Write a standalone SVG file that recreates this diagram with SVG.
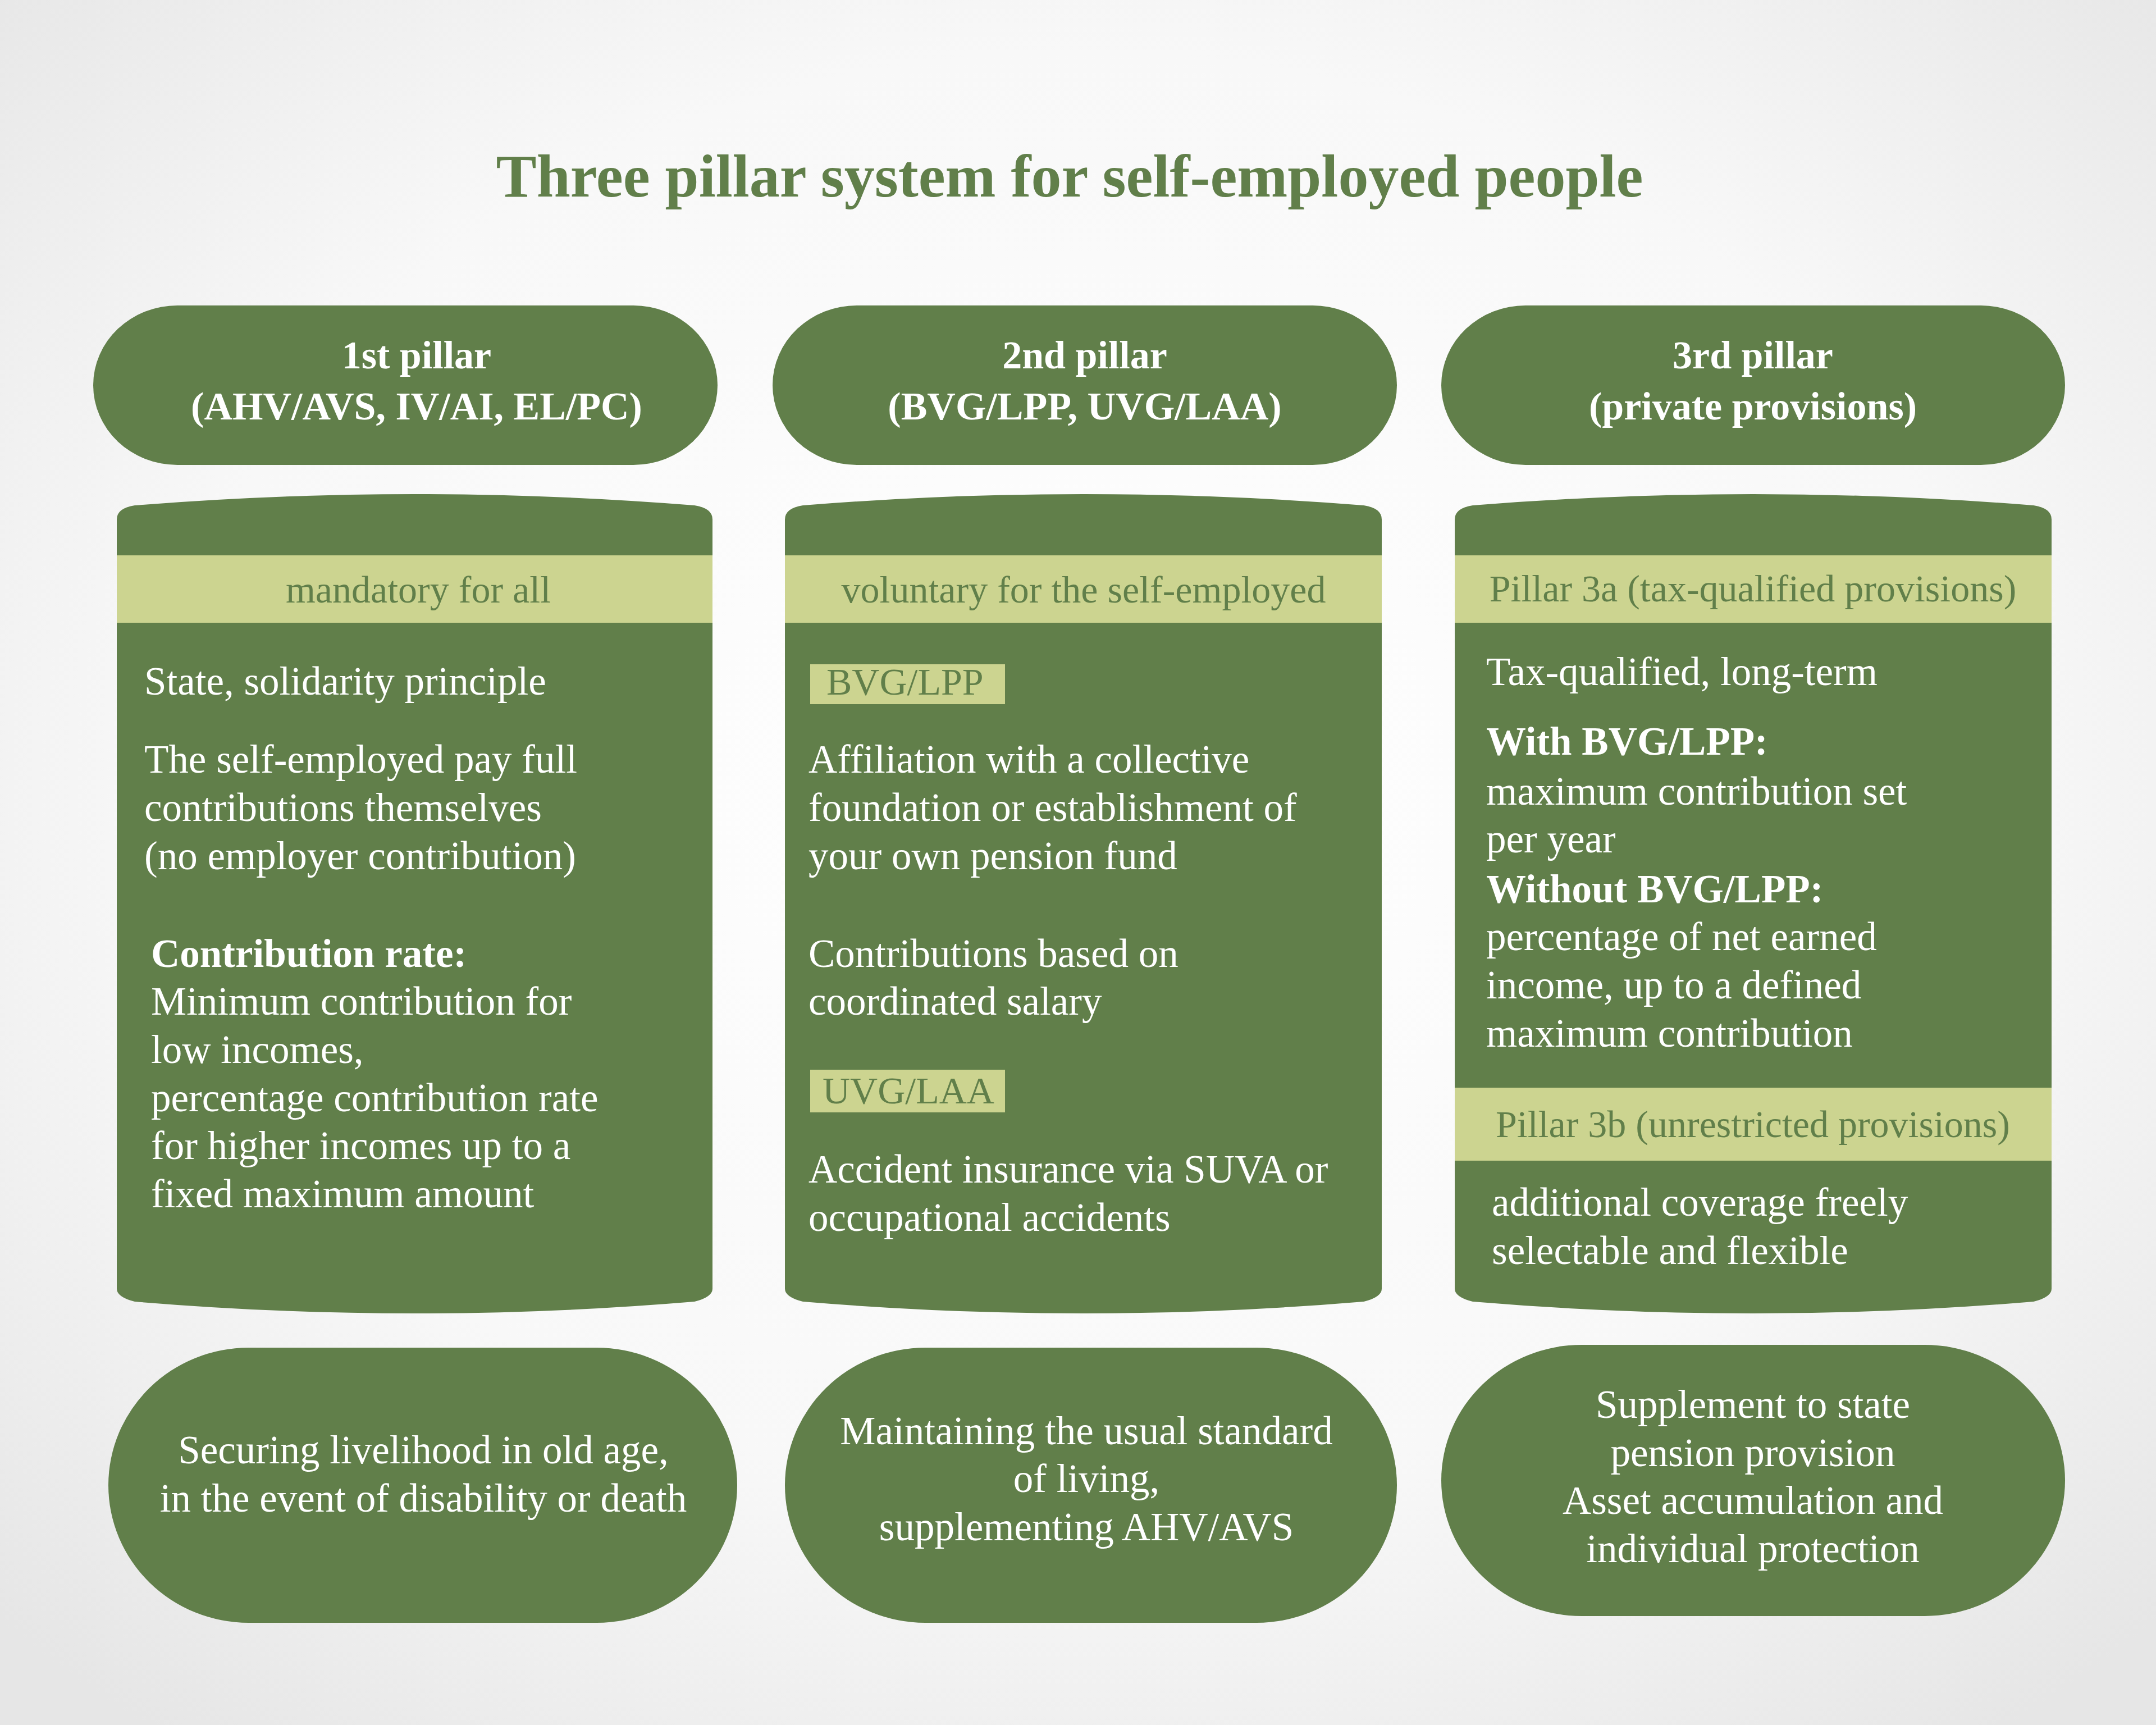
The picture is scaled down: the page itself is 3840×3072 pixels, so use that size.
<svg xmlns="http://www.w3.org/2000/svg" width="3840" height="3072" viewBox="0 0 3840 3072">
<defs>
<radialGradient id="bg" cx="50%" cy="45%" r="70%">
<stop offset="0" stop-color="#ffffff"/><stop offset="0.6" stop-color="#f8f8f8"/><stop offset="1" stop-color="#e6e6e6"/>
</radialGradient>
<style>
.g{fill:#617f4a}
.band{fill:#ccd490}
text{font-family:"Liberation Serif","DejaVu Serif",serif}
.t{fill:#ffffff;font-size:71px}
.h{fill:#ffffff;font-size:70px;font-weight:bold;text-anchor:middle}
.b{fill:#617f4a;font-size:68px}
.c{text-anchor:middle}
.bold{font-weight:bold}
</style>
</defs>
<rect width="3840" height="3072" fill="url(#bg)"/>
<text x="1905" y="350" text-anchor="middle" font-size="108" font-weight="bold" fill="#617f4a" font-family="Liberation Serif, serif">Three pillar system for self-employed people</text>

<g id="header1"><rect class="g" x="166" y="544" width="1112" height="284" rx="150" ry="142"/>
<text class="h" x="742" y="656">1st pillar</text><text class="h" x="742" y="747">(AHV/AVS, IV/AI, EL/PC)</text></g>
<g id="header2"><rect class="g" x="1376" y="544" width="1112" height="284" rx="150" ry="142"/>
<text class="h" x="1932" y="656">2nd pillar</text><text class="h" x="1932" y="747">(BVG/LPP, UVG/LAA)</text></g>
<g id="header3"><rect class="g" x="2567" y="544" width="1111" height="284" rx="150" ry="142"/>
<text class="h" x="3122" y="656">3rd pillar</text><text class="h" x="3122" y="747">(private provisions)</text></g>

<g id="pillar1">
<path class="g" d="M208,925 Q208,905 240,900 Q738,860 1237,900 Q1269,905 1269,925 L1269,2295 Q1269,2310 1237,2318 Q738,2360 240,2318 Q208,2310 208,2295 Z"/>
<rect class="band" x="208" y="989" width="1061" height="120"/>
<text class="b c" x="745" y="1073">mandatory for all</text>
<text class="t" x="257" y="1237">State, solidarity principle</text>
<text class="t" x="257" y="1376">The self-employed pay full</text>
<text class="t" x="257" y="1462">contributions themselves</text>
<text class="t" x="257" y="1548">(no employer contribution)</text>
<text class="t bold" x="269" y="1722">Contribution rate:</text>
<text class="t" x="269" y="1807">Minimum contribution for</text>
<text class="t" x="269" y="1893">low incomes,</text>
<text class="t" x="269" y="1979">percentage contribution rate</text>
<text class="t" x="269" y="2064">for higher incomes up to a</text>
<text class="t" x="269" y="2150">fixed maximum amount</text>
</g>

<g id="pillar2">
<path class="g" d="M1398,925 Q1398,905 1430,900 Q1930,860 2429,900 Q2461,905 2461,925 L2461,2295 Q2461,2310 2429,2318 Q1930,2360 1430,2318 Q1398,2310 1398,2295 Z"/>
<rect class="band" x="1398" y="989" width="1063" height="120"/>
<text class="b c" x="1930" y="1073">voluntary for the self-employed</text>
<rect class="band" x="1443" y="1183" width="347" height="71"/>
<text class="b" x="1472" y="1237">BVG/LPP</text>
<text class="t" x="1440" y="1376">Affiliation with a collective</text>
<text class="t" x="1440" y="1462">foundation or establishment of</text>
<text class="t" x="1440" y="1548">your own pension fund</text>
<text class="t" x="1440" y="1722">Contributions based on</text>
<text class="t" x="1440" y="1807">coordinated salary</text>
<rect class="band" x="1443" y="1905" width="347" height="76"/>
<text class="b" x="1465" y="1965">UVG/LAA</text>
<text class="t" x="1440" y="2106">Accident insurance via SUVA or</text>
<text class="t" x="1440" y="2192">occupational accidents</text>
</g>

<g id="pillar3">
<path class="g" d="M2591,925 Q2591,905 2623,900 Q3122,860 3622,900 Q3654,905 3654,925 L3654,2295 Q3654,2310 3622,2318 Q3122,2360 2623,2318 Q2591,2310 2591,2295 Z"/>
<rect class="band" x="2591" y="989" width="1063" height="120"/>
<text class="b c" x="3122" y="1071">Pillar 3a (tax-qualified provisions)</text>
<text class="t" x="2647" y="1220">Tax-qualified, long-term</text>
<text class="t bold" x="2647" y="1344">With BVG/LPP:</text>
<text class="t" x="2647" y="1433">maximum contribution set</text>
<text class="t" x="2647" y="1518">per year</text>
<text class="t bold" x="2647" y="1607">Without BVG/LPP:</text>
<text class="t" x="2647" y="1692">percentage of net earned</text>
<text class="t" x="2647" y="1778">income, up to a defined</text>
<text class="t" x="2647" y="1864">maximum contribution</text>
<rect class="band" x="2591" y="1937" width="1063" height="130"/>
<text class="b c" x="3122" y="2025">Pillar 3b (unrestricted provisions)</text>
<text class="t" x="2657" y="2165">additional coverage freely</text>
<text class="t" x="2657" y="2251">selectable and flexible</text>
</g>

<g id="goal1"><rect class="g" x="193" y="2400" width="1120" height="490" rx="250" ry="245"/>
<text class="t c" x="754" y="2606">Securing livelihood in old age,</text>
<text class="t c" x="754" y="2692">in the event of disability or death</text></g>
<g id="goal2"><rect class="g" x="1398" y="2400" width="1090" height="490" rx="250" ry="245"/>
<text class="t c" x="1935" y="2572">Maintaining the usual standard</text>
<text class="t c" x="1935" y="2657">of living,</text>
<text class="t c" x="1935" y="2743">supplementing AHV/AVS</text></g>
<g id="goal3"><rect class="g" x="2567" y="2395" width="1111" height="483" rx="250" ry="242"/>
<text class="t c" x="3122" y="2525">Supplement to state</text>
<text class="t c" x="3122" y="2611">pension provision</text>
<text class="t c" x="3122" y="2696">Asset accumulation and</text>
<text class="t c" x="3122" y="2782">individual protection</text></g>
<g id="connectors"/>
</svg>
